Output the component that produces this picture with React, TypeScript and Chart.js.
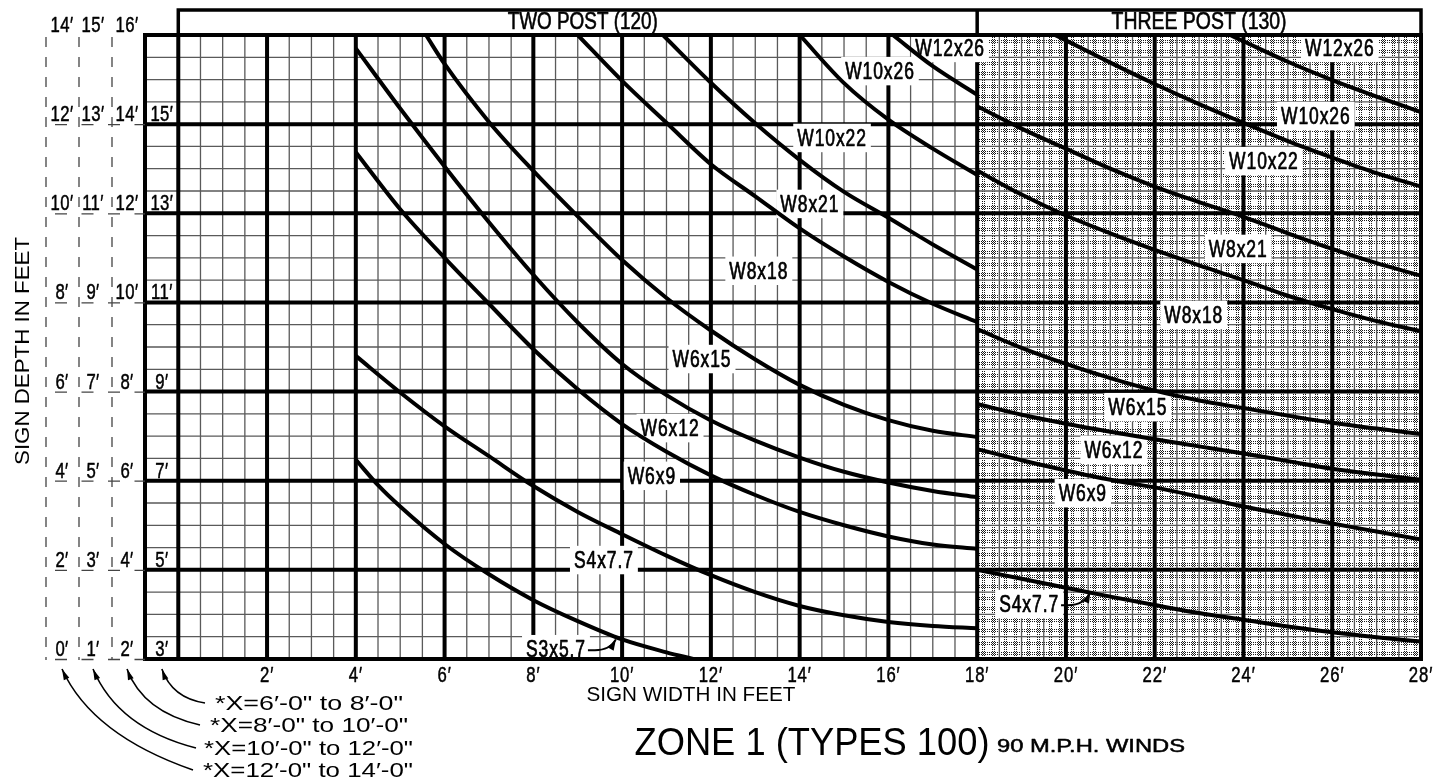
import { useEffect, useRef } from "react";
import { Chart, registerables } from "chart.js";

Chart.register(...registerables);

const FONT = '"Liberation Sans", Arial, "DejaVu Sans", sans-serif';

// ---- axes / tick labels ----
const xTickValues = [2, 4, 6, 8, 10, 12, 14, 16, 18, 20, 22, 24, 26, 28];
const xTickLabels = ["2′", "4′", "6′", "8′", "10′", "12′", "14′", "16′", "18′", "20′", "22′", "24′", "26′", "28′"];
const depthRowValues = [0, 2, 4, 6, 8, 10, 12, 14];
const depthLabelsA = ["0′", "2′", "4′", "6′", "8′", "10′", "12′", "14′"];
const depthLabelsB = ["1′", "3′", "5′", "7′", "9′", "11′", "13′", "15′"];
const depthLabelsC = ["2′", "4′", "6′", "8′", "10′", "12′", "14′", "16′"];
const depthLabelsD = ["3′", "5′", "7′", "9′", "11′", "13′", "15′", ""];
const sectionTitles = ["TWO POST (120)", "THREE POST (130)"];
const sectionBreak = 18;
const xTitle = "SIGN WIDTH IN FEET";
const yTitle = "SIGN DEPTH IN FEET";
const mainTitle = "ZONE 1 (TYPES 100)";
const subTitle = "90 M.P.H. WINDS";
const noteLines = [
  "*X=6′-0\" to 8′-0\"",
  "*X=8′-0\" to 10′-0\"",
  "*X=10′-0\" to 12′-0\"",
  "*X=12′-0\" to 14′-0\"",
];

// ---- boundary curves, two post region (x = sign width ft, y = depth ft) ----
const tpS3S4 = [[4, 4.47], [4.5, 3.9], [5, 3.42], [6, 2.58], [7, 1.9], [8, 1.32], [9, 0.85], [10, 0.44], [11, 0.15], [11.6, 0]];
const tpS4W69 = [[4, 6.8], [5, 5.98], [6, 5.22], [7, 4.55], [8, 3.88], [9, 3.3], [10, 2.8], [11, 2.32], [12, 1.88], [13, 1.5], [14, 1.19], [15, 0.98], [16, 0.83], [17, 0.74], [18, 0.69]];
const tpW69W612 = [[4, 11.37], [5, 10.09], [6, 9.0], [7, 7.97], [8, 6.95], [9, 6.05], [10, 5.27], [11, 4.65], [12, 4.12], [13, 3.68], [14, 3.3], [15, 3.0], [16, 2.75], [17, 2.57], [18, 2.47]];
const tpW612W615 = [[4, 13.7], [5, 12.35], [6, 11.05], [7, 9.8], [8, 8.62], [9, 7.55], [10, 6.62], [11, 5.92], [12, 5.35], [13, 4.9], [14, 4.52], [15, 4.2], [16, 3.96], [17, 3.77], [18, 3.63]];
const tpW615W818 = [[5.58, 14], [6, 13.35], [7, 12.05], [8, 10.95], [9, 9.93], [10, 8.95], [11, 8.1], [12, 7.37], [13, 6.72], [14, 6.15], [15, 5.7], [16, 5.36], [17, 5.12], [18, 4.98]];
const tpW818W821 = [[9, 14], [10, 12.97], [11, 12.03], [12, 11.1], [13, 10.38], [14, 9.66], [15, 9.03], [16, 8.46], [17, 7.97], [18, 7.56]];
const tpW821W1022 = [[10.92, 14], [12, 12.93], [13, 12.02], [14, 11.2], [15, 10.48], [16, 9.9], [17, 9.3], [18, 8.74]];
const tpW1022W1026 = [[14, 14], [15, 12.92], [16, 12.1], [17, 11.45], [18, 10.86]];
const tpW1026W1226 = [[16.1, 14], [17, 13.3], [18, 12.66]];

// ---- boundary curves, three post region ----
const thS4W69 = [[18, 2.0], [19, 1.8], [20, 1.6], [21, 1.4], [22, 1.21], [23, 1.03], [24, 0.88], [25, 0.73], [26, 0.6], [27, 0.49], [28, 0.39]];
const thW69W612 = [[18, 4.71], [19, 4.46], [20, 4.23], [21, 4.02], [22, 3.85], [23, 3.64], [24, 3.42], [25, 3.23], [26, 3.04], [27, 2.86], [28, 2.68]];
const thW612W615 = [[18, 5.72], [19, 5.48], [20, 5.28], [21, 5.1], [22, 4.93], [23, 4.77], [24, 4.61], [25, 4.44], [26, 4.27], [27, 4.14], [28, 4.02]];
const thW615W818 = [[18, 7.4], [19, 6.98], [20, 6.62], [21, 6.3], [22, 6.02], [23, 5.8], [24, 5.63], [25, 5.46], [26, 5.3], [27, 5.17], [28, 5.05]];
const thW818W821 = [[18, 10.96], [19, 10.42], [20, 9.95], [21, 9.55], [22, 9.18], [23, 8.83], [24, 8.5], [25, 8.15], [26, 7.85], [27, 7.58], [28, 7.35]];
const thW821W1022 = [[18, 12.4], [19, 11.9], [20, 11.45], [21, 11.0], [22, 10.6], [23, 10.25], [24, 9.92], [25, 9.55], [26, 9.2], [27, 8.88], [28, 8.6]];
const thW1022W1026 = [[19.75, 14], [20, 13.88], [21, 13.38], [22, 12.9], [23, 12.45], [24, 12.03], [25, 11.62], [26, 11.25], [27, 10.9], [28, 10.6]];
const thW1026W1226 = [[23.7, 14], [24, 13.86], [25, 13.4], [26, 12.99], [27, 12.62], [28, 12.27]];

const allCurves = [
  tpS3S4, tpS4W69, tpW69W612, tpW612W615, tpW615W818, tpW818W821, tpW821W1022, tpW1022W1026, tpW1026W1226,
  thS4W69, thW69W612, thW612W615, thW615W818, thW818W821, thW821W1022, thW1022W1026, thW1026W1226,
];

// ---- region labels (post sizes) ----
const labelTexts2 = ["W12x26", "W10x26", "W10x22", "W8x21", "W8x18", "W6x15", "W6x12", "W6x9", "S4x7.7", "S3x5.7"];
const labelX2 = [17.39, 15.81, 14.73, 14.23, 13.08, 11.8, 11.08, 10.67, 9.59, 8.51];
const labelY2 = [13.71, 13.19, 11.69, 10.21, 8.71, 6.73, 5.18, 4.11, 2.22, 0.22];
const labelTexts3 = ["W12x26", "W10x26", "W10x22", "W8x21", "W8x18", "W6x15", "W6x12", "W6x9", "S4x7.7"];
const labelX3 = [26.17, 25.63, 24.46, 23.88, 22.88, 21.62, 21.08, 20.38, 19.17];
const labelY3 = [13.71, 12.18, 11.17, 9.2, 7.72, 5.65, 4.69, 3.72, 1.23];
// arrows from small-region labels to their region
const arrowFrom = ["S3x5.7", "S4x7.7"];
const arrowLabelX = [8.51, 19.17];
const arrowLabelY = [0.22, 1.23];
const arrowTipX = [9.86, 20.55];
const arrowTipY = [0.44, 1.5];

const HS = 0.76;
const SPACING = 1.2;

function drawText(ctx: any, s: string, x: number, y: number, size: number, opt: any = {}) {
  ctx.save();
  ctx.font = `${opt.weight || "normal"} ${size}px ${FONT}`;
  ctx.textBaseline = "alphabetic";
  ctx.textAlign = "left";
  const sp = opt.width ? 0 : opt.spacing ?? SPACING;
  try { (ctx as any).letterSpacing = `${sp}px`; } catch (e) { /* ignore */ }
  const w = ctx.measureText(s).width;
  const sx = opt.width ? opt.width / w : opt.hs || HS;
  const rw = w * sx;
  const align = opt.align || "center";
  let lx = x;
  if (align === "center") lx = x - rw / 2;
  else if (align === "right") lx = x - rw;
  ctx.translate(lx, y);
  ctx.scale(sx, 1);
  ctx.fillStyle = opt.color || "#000";
  ctx.fillText(s, 0, 0);
  if (opt.stroke) {
    ctx.strokeStyle = opt.color || "#000";
    ctx.lineWidth = opt.stroke;
    ctx.lineJoin = "round";
    ctx.strokeText(s, 0, 0);
  }
  ctx.restore();
  return rw;
}

function textWidth(ctx: any, s: string, size: number) {
  ctx.save();
  ctx.font = `normal ${size}px ${FONT}`;
  try { (ctx as any).letterSpacing = `${SPACING}px`; } catch (e) { /* ignore */ }
  const w = ctx.measureText(s).width * HS;
  ctx.restore();
  return w;
}

let tileCache: any = null;
function getTile() {
  if (tileCache) return tileCache;
  const c = document.createElement("canvas");
  c.width = 24;
  c.height = 24;
  const g = c.getContext("2d") as CanvasRenderingContext2D;
  g.fillStyle = "#1a1a1a";
  const offs = [5, 7, 15, 17];
  for (const o of offs) {
    for (let i = 0; i < 24; i += 2) {
      g.fillRect(o, i, 1, 1);
      g.fillRect(i, o, 1, 1);
    }
  }
  tileCache = c;
  return c;
}

const LABEL_SIZE = 23;

function labelBox(ctx: any, s: string, cx: number, cy: number) {
  const w = textWidth(ctx, s, LABEL_SIZE);
  const cap = LABEL_SIZE * 0.716;
  ctx.fillStyle = "#fff";
  ctx.fillRect(cx - w / 2 - 4, cy - cap / 2 - 6, w + 8, cap + 12);
  drawText(ctx, s, cx, cy + cap / 2, LABEL_SIZE, { stroke: 0.7 });
  return w;
}

const zonePlugin = {
  id: "zonePlugin",
  beforeDatasetsDraw(chart: any) {
    const ctx = chart.ctx;
    const xs = chart.scales.x;
    const ys = chart.scales.y;
    const { left, right, top, bottom } = chart.chartArea;
    const X = (v: number) => xs.getPixelForValue(v);
    const Y = (v: number) => ys.getPixelForValue(v);
    ctx.save();
    // stippled three-post region
    const tile = getTile();
    for (let gx = sectionBreak; gx < 28; gx += 0.5) {
      for (let gy = 0; gy < 14; gy += 0.5) {
        const px = Math.round(X(gx));
        const py = Math.round(Y(gy + 0.5));
        const w = Math.round(X(gx + 0.5)) - px;
        const h = Math.round(Y(gy)) - py;
        ctx.drawImage(tile, 0, 0, w, h, px, py, w, h);
      }
    }
    // minor grid
    ctx.strokeStyle = "#5a5a5a";
    ctx.lineWidth = 1.3;
    ctx.beginPath();
    for (let v = 0.5; v < 28; v += 0.5) {
      if (v % 2 === 0) continue;
      const p = X(v);
      ctx.moveTo(p, top);
      ctx.lineTo(p, bottom);
    }
    for (let v = 0.5; v < 14; v += 0.5) {
      if (v % 2 === 0) continue;
      const p = Y(v);
      ctx.moveTo(left, p);
      ctx.lineTo(right, p);
    }
    ctx.stroke();
    // major grid
    ctx.strokeStyle = "#000";
    ctx.lineWidth = 4;
    ctx.beginPath();
    for (let v = 0; v < 28; v += 2) {
      const p = X(v);
      ctx.moveTo(p, top);
      ctx.lineTo(p, bottom);
    }
    for (let v = 2; v < 14; v += 2) {
      const p = Y(v);
      ctx.moveTo(left, p);
      ctx.lineTo(right, p);
    }
    ctx.stroke();
    // region labels
    labelTexts2.forEach((s, i) => labelBox(ctx, s, X(labelX2[i]), Y(labelY2[i])));
    labelTexts3.forEach((s, i) => labelBox(ctx, s, X(labelX3[i]), Y(labelY3[i])));
    ctx.restore();
  },
  afterDatasetsDraw(chart: any) {
    const ctx = chart.ctx;
    const xs = chart.scales.x;
    const ys = chart.scales.y;
    const { left, right, top, bottom } = chart.chartArea;
    const X = (v: number) => xs.getPixelForValue(v);
    const Y = (v: number) => ys.getPixelForValue(v);
    ctx.save();
    // frame
    ctx.strokeStyle = "#000";
    ctx.lineWidth = 4;
    ctx.strokeRect(left, top, right - left, bottom - top);
    // header
    const hTop = top - 25;
    ctx.lineWidth = 3.5;
    ctx.beginPath();
    ctx.moveTo(X(0), top);
    ctx.lineTo(X(0), hTop);
    ctx.lineTo(right, hTop);
    ctx.lineTo(right, top);
    ctx.moveTo(X(sectionBreak), top);
    ctx.lineTo(X(sectionBreak), hTop);
    ctx.stroke();
    drawText(ctx, sectionTitles[0], (X(0) + X(sectionBreak)) / 2 + 5, top - 6, 23, { width: 150, stroke: 0.6 });
    drawText(ctx, sectionTitles[1], (X(sectionBreak) + right) / 2, top - 6, 23, { width: 175, stroke: 0.6 });

    // arrows from labels
    ctx.lineWidth = 2;
    arrowFrom.forEach((s, i) => {
      const w = textWidth(ctx, s, LABEL_SIZE);
      const sx = X(arrowLabelX[i]) + w / 2 + 2;
      const sy = Y(arrowLabelY[i]) + 1;
      const tx = X(arrowTipX[i]);
      const ty = Y(arrowTipY[i]);
      ctx.beginPath();
      ctx.moveTo(sx, sy);
      ctx.lineTo(sx + 7, sy);
      const cx = tx - 6;
      const cy = sy;
      ctx.quadraticCurveTo(cx, cy, tx, ty);
      ctx.stroke();
      const ang = Math.atan2(ty - cy, tx - cx);
      ctx.beginPath();
      ctx.moveTo(tx, ty);
      ctx.lineTo(tx - 11 * Math.cos(ang) + 3.5 * Math.sin(ang), ty - 11 * Math.sin(ang) - 3.5 * Math.cos(ang));
      ctx.lineTo(tx - 11 * Math.cos(ang) - 3.5 * Math.sin(ang), ty - 11 * Math.sin(ang) + 3.5 * Math.cos(ang));
      ctx.closePath();
      ctx.fillStyle = "#000";
      ctx.fill();
    });

    // x tick labels
    xTickValues.forEach((v, i) => drawText(ctx, xTickLabels[i], X(v), bottom + 23, 22, { stroke: 0.5 }));
    drawText(ctx, xTitle, X(11.55), bottom + 42, 21, { width: 209 });

    // depth label columns
    const colX = [left - 83, left - 52, left - 18, X(-0.37)];
    const cols = [depthLabelsA, depthLabelsB, depthLabelsC, depthLabelsD];
    depthRowValues.forEach((v, r) => {
      const py = Y(v);
      cols.forEach((col, c) => {
        if (col[r]) drawText(ctx, col[r], colX[c], py - 3, 22, { spacing: 0.5, stroke: 0.5 });
      });
    });
    ctx.strokeStyle = "#444";
    ctx.lineWidth = 1.3;
    ctx.setLineDash([10, 10]);
    ctx.beginPath();
    [left - 99, left - 66, left - 33].forEach((gx) => {
      ctx.moveTo(gx, top + 2);
      ctx.lineTo(gx, bottom + 1);
    });
    ctx.stroke();
    ctx.setLineDash([12, 14.5]);
    ctx.beginPath();
    depthRowValues.forEach((v) => {
      if (v === 14) return;
      const py = Y(v) + 0.5;
      ctx.moveTo(left - 90, py);
      ctx.lineTo(left, py);
    });
    ctx.stroke();
    ctx.setLineDash([]);

    // y title
    ctx.save();
    ctx.translate(29, (top + bottom) / 2 + 4);
    ctx.rotate(-Math.PI / 2);
    drawText(ctx, yTitle, 0, 0, 21, { width: 228 });
    ctx.restore();

    // notes with arrows
    const noteLeft = [215, 210, 204, 203];
    const noteBase = [710, 732, 755, 777];
    const noteW = [188, 198, 209, 210];
    noteLines.forEach((s, i) => drawText(ctx, s, noteLeft[i], noteBase[i], 21, { width: noteW[i], align: "left" }));
    const tips = [colX[3], colX[2], colX[1], colX[0]];
    const starts = [[205, 703], [200, 725], [196, 748], [193, 770]];
    const ctrls = [[172, 698], [143, 712], [118, 728], [92, 735]];
    ctx.strokeStyle = "#000";
    ctx.lineWidth = 1.6;
    tips.forEach((tx, i) => {
      const ty = bottom + 10;
      const [sx, sy] = starts[i];
      const [cx, cy] = ctrls[i];
      ctx.beginPath();
      ctx.moveTo(sx, sy);
      ctx.quadraticCurveTo(cx, cy, tx, ty);
      ctx.stroke();
      const ang = Math.atan2(ty - cy, tx - cx);
      ctx.beginPath();
      ctx.moveTo(tx, ty);
      ctx.lineTo(tx - 11 * Math.cos(ang) + 3 * Math.sin(ang), ty - 11 * Math.sin(ang) - 3 * Math.cos(ang));
      ctx.lineTo(tx - 11 * Math.cos(ang) - 3 * Math.sin(ang), ty - 11 * Math.sin(ang) + 3 * Math.cos(ang));
      ctx.closePath();
      ctx.fillStyle = "#000";
      ctx.fill();
    });

    // titles
    drawText(ctx, mainTitle, 812, 755, 39, { width: 355 });
    drawText(ctx, subTitle, 997, 752, 18, { width: 188, align: "left", stroke: 0.5 });
    ctx.restore();
  },
};

export default function App() {
  const ref = useRef<HTMLCanvasElement | null>(null);
  useEffect(() => {
    if (!ref.current) return;
    const chart = new Chart(ref.current, {
      type: "line",
      data: {
        datasets: allCurves.map((pts) => ({
          data: pts.map(([x, y]) => ({ x, y })),
          borderColor: "#000",
          borderWidth: 4,
          pointRadius: 0,
          cubicInterpolationMode: "monotone",
          fill: false,
        })),
      } as any,
      options: {
        responsive: false,
        animation: false,
        devicePixelRatio: 1,
        layout: { padding: { left: 145, top: 35, right: 13, bottom: 121 } },
        scales: {
          x: { type: "linear", min: -0.75, max: 28, display: false },
          y: { type: "linear", min: 0, max: 14, display: false },
        },
        plugins: { legend: { display: false }, tooltip: { enabled: false } },
      } as any,
      plugins: [zonePlugin as any],
    });
    return () => chart.destroy();
  }, []);
  return (
    <div style={{ position: "absolute", left: 0, top: 0, width: 1434, height: 780, background: "#fff" }}>
      <canvas ref={ref} width={1434} height={780} style={{ display: "block", width: 1434, height: 780 }} />
    </div>
  );
}
